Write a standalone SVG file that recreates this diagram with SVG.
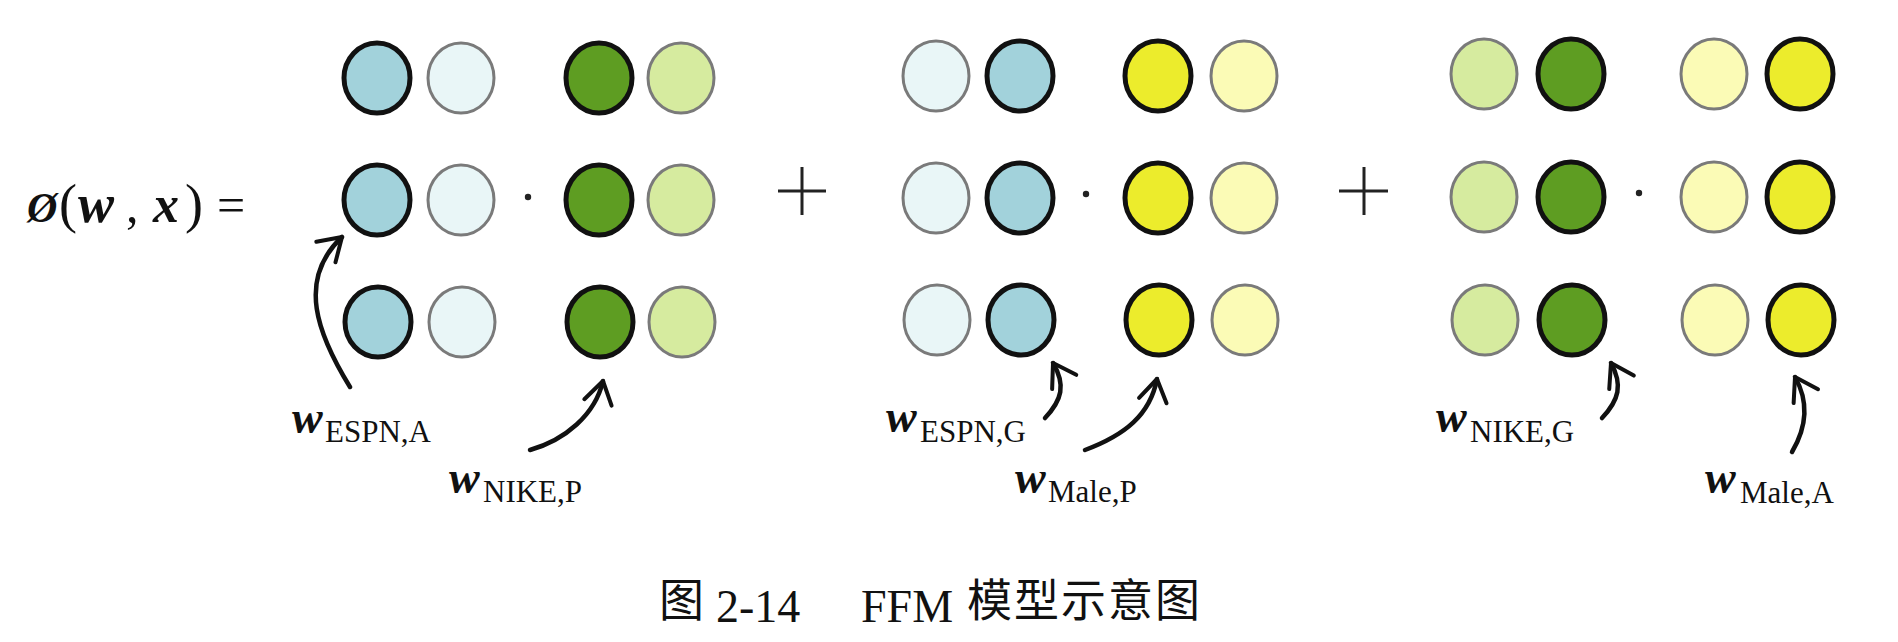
<svg xmlns="http://www.w3.org/2000/svg" width="1898" height="642" viewBox="0 0 1898 642">
<style>
  .blue{fill:#a2d2db;stroke:#111;stroke-width:5}
  .lblue{fill:#e9f6f7;stroke:#7a7a7a;stroke-width:3}
  .dgreen{fill:#5e9d22;stroke:#111;stroke-width:5}
  .lgreen{fill:#d6eb9f;stroke:#7a7a7a;stroke-width:3}
  .yellow{fill:#ecec2c;stroke:#111;stroke-width:5}
  .lyellow{fill:#fbfbb6;stroke:#7a7a7a;stroke-width:3}
  .serif{font-family:"Liberation Serif","Times New Roman",serif;fill:#111}
  .bi{font-weight:bold;font-style:italic}
  .w{font-size:46px}
  .sub{font-size:31px}
  .arrow{fill:none;stroke:#111;stroke-width:4.5;stroke-linecap:round}
  .op{stroke:#222;stroke-width:3;fill:none}
  .cjk{font-family:"Noto Sans CJK SC","Noto Sans CJK JP",sans-serif;fill:#111}
</style>
<defs>
  <marker id="head" markerUnits="userSpaceOnUse" viewBox="-28 -20 32 40" markerWidth="32" markerHeight="40" refX="0" refY="0" orient="auto" overflow="visible">
    <path d="M-22,-14 L0,0 L-22,14" fill="none" stroke="#111" stroke-width="4" stroke-linecap="round" stroke-linejoin="round"/>
  </marker>
</defs>
<rect width="1898" height="642" fill="#ffffff"/>

<g id="formula">
  <text class="serif" y="222" font-size="50">
    <tspan x="27" class="bi" font-size="42">Ø</tspan><tspan x="59" font-size="54">(</tspan><tspan x="78" class="bi" font-size="54">w</tspan><tspan x="126">,</tspan><tspan x="153" class="bi" font-size="52">x</tspan><tspan x="185" font-size="54">)</tspan><tspan x="217">=</tspan>
  </text>
</g>

<!-- Group 1 -->
<g id="g1-row1">
  <ellipse class="blue" cx="377" cy="78" rx="33" ry="35"/>
  <ellipse class="lblue" cx="461" cy="78" rx="33" ry="35"/>
  <ellipse class="dgreen" cx="599" cy="78" rx="33" ry="35"/>
  <ellipse class="lgreen" cx="681" cy="78" rx="33" ry="35"/>
</g>
<g id="g1-row2">
  <ellipse class="blue" cx="377" cy="200" rx="33" ry="35"/>
  <ellipse class="lblue" cx="461" cy="200" rx="33" ry="35"/>
  <circle cx="528" cy="197" r="3.2" fill="#222"/>
  <ellipse class="dgreen" cx="599" cy="200" rx="33" ry="35"/>
  <ellipse class="lgreen" cx="681" cy="200" rx="33" ry="35"/>
</g>
<g id="g1-row3">
  <ellipse class="blue" cx="378" cy="322" rx="33" ry="35"/>
  <ellipse class="lblue" cx="462" cy="322" rx="33" ry="35"/>
  <ellipse class="dgreen" cx="600" cy="322" rx="33" ry="35"/>
  <ellipse class="lgreen" cx="682" cy="322" rx="33" ry="35"/>
</g>

<g id="plus1">
  <path class="op" d="M778,191 H826 M802,167 V215"/>
</g>

<!-- Group 2 -->
<g id="g2-row1">
  <ellipse class="lblue" cx="936" cy="76" rx="33" ry="35"/>
  <ellipse class="blue" cx="1020" cy="76" rx="33" ry="35"/>
  <ellipse class="yellow" cx="1158" cy="76" rx="33" ry="35"/>
  <ellipse class="lyellow" cx="1244" cy="76" rx="33" ry="35"/>
</g>
<g id="g2-row2">
  <ellipse class="lblue" cx="936" cy="198" rx="33" ry="35"/>
  <ellipse class="blue" cx="1020" cy="198" rx="33" ry="35"/>
  <circle cx="1086" cy="194" r="3.2" fill="#222"/>
  <ellipse class="yellow" cx="1158" cy="198" rx="33" ry="35"/>
  <ellipse class="lyellow" cx="1244" cy="198" rx="33" ry="35"/>
</g>
<g id="g2-row3">
  <ellipse class="lblue" cx="937" cy="320" rx="33" ry="35"/>
  <ellipse class="blue" cx="1021" cy="320" rx="33" ry="35"/>
  <ellipse class="yellow" cx="1159" cy="320" rx="33" ry="35"/>
  <ellipse class="lyellow" cx="1245" cy="320" rx="33" ry="35"/>
</g>

<g id="plus2">
  <path class="op" d="M1339,191 H1388 M1364,167 V215"/>
</g>

<!-- Group 3 -->
<g id="g3-row1">
  <ellipse class="lgreen" cx="1484" cy="74" rx="33" ry="35"/>
  <ellipse class="dgreen" cx="1571" cy="74" rx="33" ry="35"/>
  <ellipse class="lyellow" cx="1714" cy="74" rx="33" ry="35"/>
  <ellipse class="yellow" cx="1800" cy="74" rx="33" ry="35"/>
</g>
<g id="g3-row2">
  <ellipse class="lgreen" cx="1484" cy="197" rx="33" ry="35"/>
  <ellipse class="dgreen" cx="1571" cy="197" rx="33" ry="35"/>
  <circle cx="1639" cy="193" r="3.2" fill="#222"/>
  <ellipse class="lyellow" cx="1714" cy="197" rx="33" ry="35"/>
  <ellipse class="yellow" cx="1800" cy="197" rx="33" ry="35"/>
</g>
<g id="g3-row3">
  <ellipse class="lgreen" cx="1485" cy="320" rx="33" ry="35"/>
  <ellipse class="dgreen" cx="1572" cy="320" rx="33" ry="35"/>
  <ellipse class="lyellow" cx="1715" cy="320" rx="33" ry="35"/>
  <ellipse class="yellow" cx="1801" cy="320" rx="33" ry="35"/>
</g>

<!-- Labels -->
<g id="lbl-espn-a">
  <text class="serif" y="433"><tspan x="292" class="bi w">w</tspan><tspan x="325" y="442" class="sub">ESPN,A</tspan></text>
</g>
<g id="lbl-nike-p">
  <text class="serif" y="493"><tspan x="449" class="bi w">w</tspan><tspan x="483" y="502" class="sub">NIKE,P</tspan></text>
</g>
<g id="lbl-espn-g">
  <text class="serif" y="432"><tspan x="886" class="bi w">w</tspan><tspan x="920" y="442" class="sub">ESPN,G</tspan></text>
</g>
<g id="lbl-male-p">
  <text class="serif" y="493"><tspan x="1015" class="bi w">w</tspan><tspan x="1048" y="502" class="sub">Male,P</tspan></text>
</g>
<g id="lbl-nike-g">
  <text class="serif" y="432"><tspan x="1436" class="bi w">w</tspan><tspan x="1470" y="442" class="sub">NIKE,G</tspan></text>
</g>
<g id="lbl-male-a">
  <text class="serif" y="493"><tspan x="1705" class="bi w">w</tspan><tspan x="1740" y="503" class="sub">Male,A</tspan></text>
</g>

<!-- Connectors -->
<g id="connectors">
  <path class="arrow" marker-end="url(#head)" d="M350,387 C318,335 296,280 342,237"/>
  <path class="arrow" marker-end="url(#head)" d="M530,450 C565,440 595,415 603,381"/>
  <path class="arrow" marker-end="url(#head)" d="M1045,418 C1062,400 1066,385 1053,363"/>
  <path class="arrow" marker-end="url(#head)" d="M1085,450 C1125,435 1150,415 1157,379"/>
  <path class="arrow" marker-end="url(#head)" d="M1602,418 C1619,400 1623,385 1611,363"/>
  <path class="arrow" marker-end="url(#head)" d="M1792,452 C1808,425 1808,400 1795,377"/>
</g>

<!-- Caption -->
<g id="caption">
  <text class="cjk" x="659" y="617" font-size="45">图</text>
  <text class="serif" x="716" y="622" font-size="46">2-14</text>
  <text class="serif" x="861" y="622" font-size="46">FFM</text>
  <text class="cjk" x="967" y="617" font-size="45" letter-spacing="2">模型示意图</text>
</g>
</svg>
